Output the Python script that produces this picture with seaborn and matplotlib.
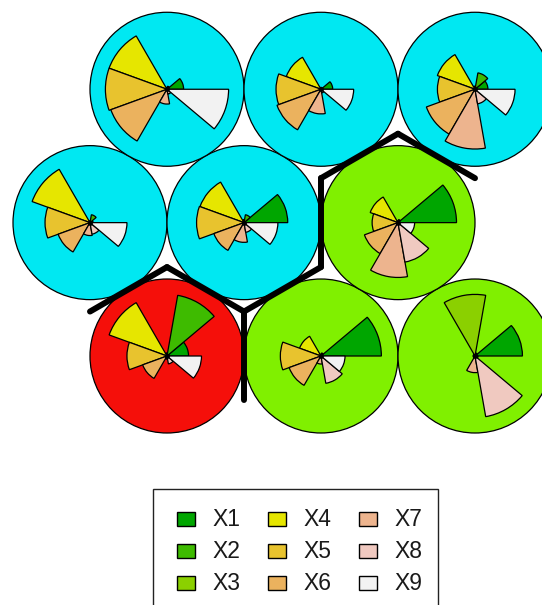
import numpy as np
import pandas as pd
import matplotlib
matplotlib.use("Agg")
import matplotlib.pyplot as plt
from matplotlib.patches import Wedge, Circle, Rectangle
import seaborn as sns

# ---------------- data (units ordered row by row from the bottom) ----------------
variables = ["X1", "X2", "X3", "X4", "X5", "X6", "X7", "X8", "X9"]
X1 = [0.35, 0.98, 0.77, 0.05, 0.71, 0.95, 0.27, 0.19, 0.21]
X2 = [1.00, 0.05, 0.05, 0.13, 0.13, 0.05, 0.05, 0.03, 0.27]
X3 = [0.05, 0.03, 1.00, 0.03, 0.05, 0.03, 0.03, 0.03, 0.05]
X4 = [1.00, 0.37, 0.03, 1.00, 0.76, 0.48, 1.00, 0.60, 0.65]
X5 = [0.65, 0.66, 0.03, 0.73, 0.77, 0.42, 1.00, 0.73, 0.61]
X6 = [0.42, 0.55, 0.03, 0.55, 0.52, 0.58, 0.97, 0.76, 0.84]
X7 = [0.05, 0.13, 0.27, 0.21, 0.32, 0.89, 0.24, 0.40, 0.97]
X8 = [0.13, 0.45, 1.00, 0.19, 0.16, 0.65, 0.08, 0.06, 0.24]
X9 = [0.56, 0.39, 0.05, 0.60, 0.55, 0.27, 1.00, 0.53, 0.65]
clusters = [2, 3, 3, 1, 1, 3, 1, 1, 1]

seg_colors = ["#00A600", "#3EBB00", "#8BD000", "#E6E600", "#E8C32E",
              "#EBB25E", "#EDB48E", "#F0C9C0", "#F2F2F2"]
cluster_colors = {1: "#00E8F2", 2: "#F50F0A", 3: "#80F000"}

codes = pd.DataFrame({"X1": X1, "X2": X2, "X3": X3, "X4": X4, "X5": X5,
                      "X6": X6, "X7": X7, "X8": X8, "X9": X9})

# ---------------- hexagonal grid ----------------
xdim, ydim = 3, 3
gx, gy = [], []
for j in range(ydim):
    for i in range(xdim):
        gx.append(i + 1 + (0.5 if j % 2 == 0 else 0.0))
        gy.append(1 + j * np.sqrt(3) / 2)
grid = pd.DataFrame({"x": gx, "y": gy, "cluster": clusters})

sns.set_theme(style="white")
plt.rcParams["font.family"] = ["Liberation Sans", "DejaVu Sans"]

fig = plt.figure(figsize=(5.42, 6.05), dpi=100)
ax = fig.add_axes([0, 0, 1, 1])
U = 154.0
ax.set_xlim(1 - 90 / U, 1 + 452 / U)
ax.set_ylim(1 - 249 / U, 1 + 356 / U)
ax.set_aspect("equal")
ax.axis("off")

seg_len = 0.4
for k, row in grid.iterrows():
    cx, cy = row["x"], row["y"]
    ax.add_patch(Circle((cx, cy), 0.5, facecolor=cluster_colors[row["cluster"]],
                        edgecolor="black", lw=0.9, zorder=1))
    for v, var in enumerate(variables):
        r = codes.loc[k, var] * seg_len
        ax.add_patch(Wedge((cx, cy), r, v * 40, (v + 1) * 40,
                           facecolor=seg_colors[v], edgecolor="black",
                           lw=0.9, zorder=2))

# cell centres
sns.scatterplot(data=grid, x="x", y="y", color="black", s=12, ax=ax,
                zorder=3, legend=False, linewidth=0)

# cluster boundaries between neighbouring cells of different clusters
half = 1 / (2 * np.sqrt(3))
pts = grid[["x", "y"]].to_numpy()
for a in range(len(pts)):
    for b in range(a + 1, len(pts)):
        d = pts[b] - pts[a]
        if abs(np.hypot(*d) - 1) < 1e-6 and clusters[a] != clusters[b]:
            m = (pts[a] + pts[b]) / 2
            perp = np.array([-d[1], d[0]])
            p1, p2 = m + perp * half, m - perp * half
            ax.plot([p1[0], p2[0]], [p1[1], p2[1]], color="black", lw=4.3,
                    solid_capstyle="round", zorder=4)
ax.set_xlabel("")
ax.set_ylabel("")

# ---------------- legend ----------------
lax = fig.add_axes([0, 0, 1, 1])
lax.set_xlim(0, 542)
lax.set_ylim(605, 0)
lax.axis("off")
lax.patch.set_alpha(0)
lax.add_patch(Rectangle((153, 489), 285, 130, facecolor="white",
                        edgecolor="#222222", lw=1.0))
for v, var in enumerate(variables):
    col, rw = divmod(v, 3)
    sx = 186 + col * 91
    sy = 519 + rw * 32
    lax.add_patch(Rectangle((sx - 9, sy - 7), 18, 14, facecolor=seg_colors[v],
                            edgecolor="black", lw=1.0))
    lax.text(sx + 26, sy + 1, var, fontsize=16.5, va="center", ha="left",
             color="#1a1a1a")

fig.savefig("out.png", dpi=100)
